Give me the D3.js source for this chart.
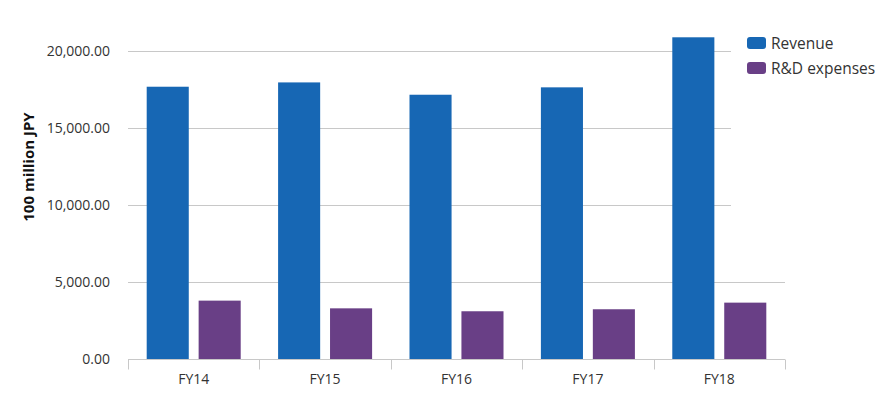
<!DOCTYPE html>
<html>
<head>
<meta charset="utf-8">
<script src="https://cdn.jsdelivr.net/npm/d3@7"></script>
<style>
  body { margin: 0; background: #fff; }
  text { font-family: "Open Sans", sans-serif; }
</style>
</head>
<body>
<svg id="chart" width="889" height="395"></svg>
<script>
// data
const years = ["FY14", "FY15", "FY16", "FY17", "FY18"];
const seriesNames = ["Revenue", "R&D expenses"];
const revenue = [17680, 17960, 17160, 17640, 20890];
const rdExpenses = [3790, 3290, 3100, 3230, 3660];
const yTicks = [0, 5000, 10000, 15000, 20000];

const colors = {"Revenue": "#1767b4", "R&D expenses": "#693f86"};

const svg = d3.select("#chart");
const margin = {top: 51, left: 128, right: 104, bottom: 36};
const width = 889 - margin.left - margin.right,
      height = 395 - margin.top - margin.bottom;

const x = d3.scaleBand().domain(years).range([margin.left, margin.left + width]);
const x1 = d3.scaleBand().domain(seriesNames).range([0, x.bandwidth()])
             .paddingInner(0.19).paddingOuter(0.36);
const y = d3.scaleLinear().domain([0, 20000]).range([margin.top + height, margin.top]);

// gridlines
svg.append("g")
   .selectAll("line")
   .data(yTicks.filter(d => d > 0))
   .enter()
   .append("line")
   .attr("x1", margin.left)
   .attr("x2", margin.left + width)
   .attr("y1", d => Math.round(y(d)) + 0.5)
   .attr("y2", d => Math.round(y(d)) + 0.5)
   .attr("stroke", "#c8c8c8")

// y labels
svg.append("g")
   .selectAll("text")
   .data(yTicks)
   .enter()
   .append("text")
   .attr("x", 110)
   .attr("y", d => y(d) + 5)
   .attr("text-anchor", "end")
   .attr("font-size", 14)
   .attr("fill", "#333")
   .text(d => d3.format(",.2f")(d))

// y title
svg.append("text")
   .attr("transform", "translate(34,167) rotate(-90)")
   .attr("text-anchor", "middle")
   .attr("font-size", 15)
   .attr("font-weight", "bold")
   .attr("fill", "#111")
   .text("100 million JPY")

// bars
const data = years.map((yr, i) => ({year: yr, values: [
  {name: "Revenue", value: revenue[i]},
  {name: "R&D expenses", value: rdExpenses[i]}
]}));

svg.append("g")
   .selectAll("g")
   .data(data)
   .enter()
   .append("g")
   .attr("transform", d => "translate(" + x(d.year) + ",0)")
   .selectAll("rect")
   .data(d => d.values)
   .enter()
   .append("rect")
   .attr("x", d => x1(d.name))
   .attr("width", x1.bandwidth())
   .attr("y", d => y(d.value))
   .attr("height", d => y(0) - y(d.value))
   .attr("fill", d => colors[d.name])

// x axis
const xAxis = svg.append("g")
   .attr("transform", "translate(0," + (y(0) + 0.5) + ")")
xAxis.append("line")
     .attr("x1", margin.left)
     .attr("x2", margin.left + width)
     .attr("stroke", "#c8c8c8")
xAxis.selectAll(".tk")
     .data(years.map(d => x(d)).concat([margin.left + width]))
     .enter()
     .append("line")
     .attr("x1", d => Math.round(d) + 0.5)
     .attr("x2", d => Math.round(d) + 0.5)
     .attr("y1", 0)
     .attr("y2", 10)
     .attr("stroke", "#c8c8c8")
xAxis.selectAll("text")
     .data(years)
     .enter()
     .append("text")
     .attr("x", d => x(d) + x.bandwidth() / 2)
     .attr("y", 24)
     .attr("text-anchor", "middle")
     .attr("font-size", 14)
     .attr("fill", "#333")
     .text(d => d)

// legend (white box covers gridlines)
const legend = svg.append("g")
svg.append("rect")
   .attr("x", 731)
   .attr("y", 25)
   .attr("width", 158)
   .attr("height", 230)
   .attr("fill", "#fff")
legend.raise()
legend.selectAll("rect")
      .data(seriesNames)
      .enter()
      .append("rect")
      .attr("x", 747)
      .attr("y", (d, i) => 37 + i * 25)
      .attr("width", 19)
      .attr("height", 12)
      .attr("rx", 3)
      .attr("fill", d => colors[d])
legend.selectAll("text")
      .data(seriesNames)
      .enter()
      .append("text")
      .attr("x", 771)
      .attr("y", (d, i) => 49 + i * 25)
      .attr("font-size", 15.5)
      .attr("fill", "#333")
      .text(d => d)
</script>
</body>
</html>
